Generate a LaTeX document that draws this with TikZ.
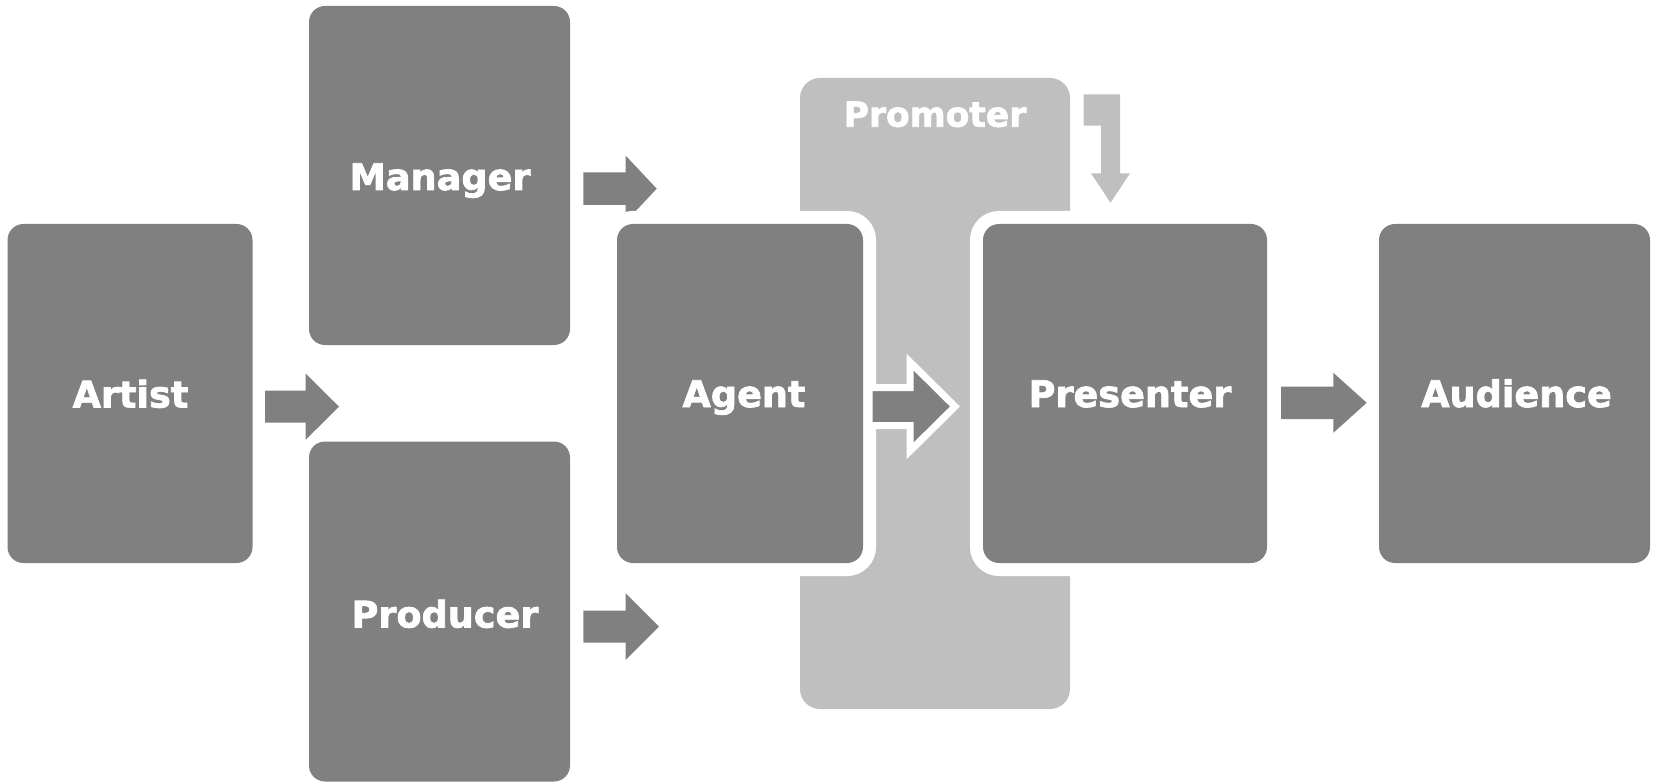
\documentclass[tikz,border=0pt]{standalone}
\usepackage{fontspec}
\newfontfamily\lblfont{DejaVu Sans}[BoldFeatures={FakeBold=2}]
\definecolor{dk}{RGB}{128,128,128}
\definecolor{lt}{RGB}{191,191,191}
\newcommand\barrow[7]{% style, x0, xb, xt, yc, shaft half, head half
  \path[#1] (#2,#5-#6) -- (#3,#5-#6) -- (#3,#5-#7) -- (#4,#5) -- (#3,#5+#7) -- (#3,#5+#6) -- (#2,#5+#6) -- cycle;}
\begin{document}
\begin{tikzpicture}[x=1pt,y=-1pt,
  box/.style={fill=dk, draw=none, rounded corners=16pt, inner sep=0pt, outer sep=0pt},
  ring/.style={preaction={draw=white, line width=26pt}},
  lbl/.style={text=white, font=\lblfont\bfseries\fontsize{36.6}{44}\selectfont, anchor=base, inner sep=0pt},
  darr/.style={fill=dk},
  warr/.style={fill=dk, draw=white, line width=7pt, miter limit=10}]
\useasboundingbox[fill=white] (0,0) rectangle (1656,783);
% Promoter background
\node[fill=lt, rounded corners=20pt, inner sep=0pt, minimum width=270pt, minimum height=631pt] (promoter) at (935,393.5) {};
\node[lbl, font=\lblfont\bfseries\fontsize{34.5}{40}\selectfont] (promoterT) at (935,126.7) {Promoter};
% Promoter down arrow
\fill[lt] (1083.5,94.3) -- (1120,94.3) -- (1120,173.3) -- (1130,173.3) -- (1110.5,202.7) -- (1091,173.3) -- (1101,173.3) -- (1101,125.7) -- (1083.5,125.7) -- cycle;
% dark arrows
\barrow{darr}{265}{305.7}{339}{406.7}{16}{33}
\barrow{darr}{583.3}{625.7}{656.7}{188.7}{16.3}{33}
\barrow{darr}{583.3}{625.7}{659}{626.7}{16}{33.3}
\barrow{darr}{1281}{1333.3}{1366.7}{402.8}{16.2}{30}
% boxes
\node[box, minimum width=245pt, minimum height=339pt] (artist) at (130,393.5) {};
\node[box, minimum width=261pt, minimum height=339pt] (manager) at (439.5,175.5) {};
\node[box, minimum width=261pt, minimum height=340pt] (producer) at (439.5,611.5) {};
\node[box, ring, minimum width=246pt, minimum height=339pt] (agent) at (740,393.5) {};
\node[box, ring, minimum width=284pt, minimum height=339pt] (presenter) at (1125,393.5) {};
\node[box, minimum width=271pt, minimum height=339pt] (audience) at (1514.5,393.5) {};
% middle arrow with white outline
\barrow{warr}{869}{910}{955}{406.5}{19}{44.5}
% labels
\node[lbl] (artistT) at (130.5,407.5) {Artist};
\node[lbl] (managerT) at (440,190) {Manager};
\node[lbl] (producerT) at (445,627.5) {Producer};
\node[lbl] (agentT) at (744,407) {Agent};
\node[lbl] (presenterT) at (1130,407) {Presenter};
\node[lbl] (audienceT) at (1516.5,407) {Audience};
\end{tikzpicture}
\end{document}
